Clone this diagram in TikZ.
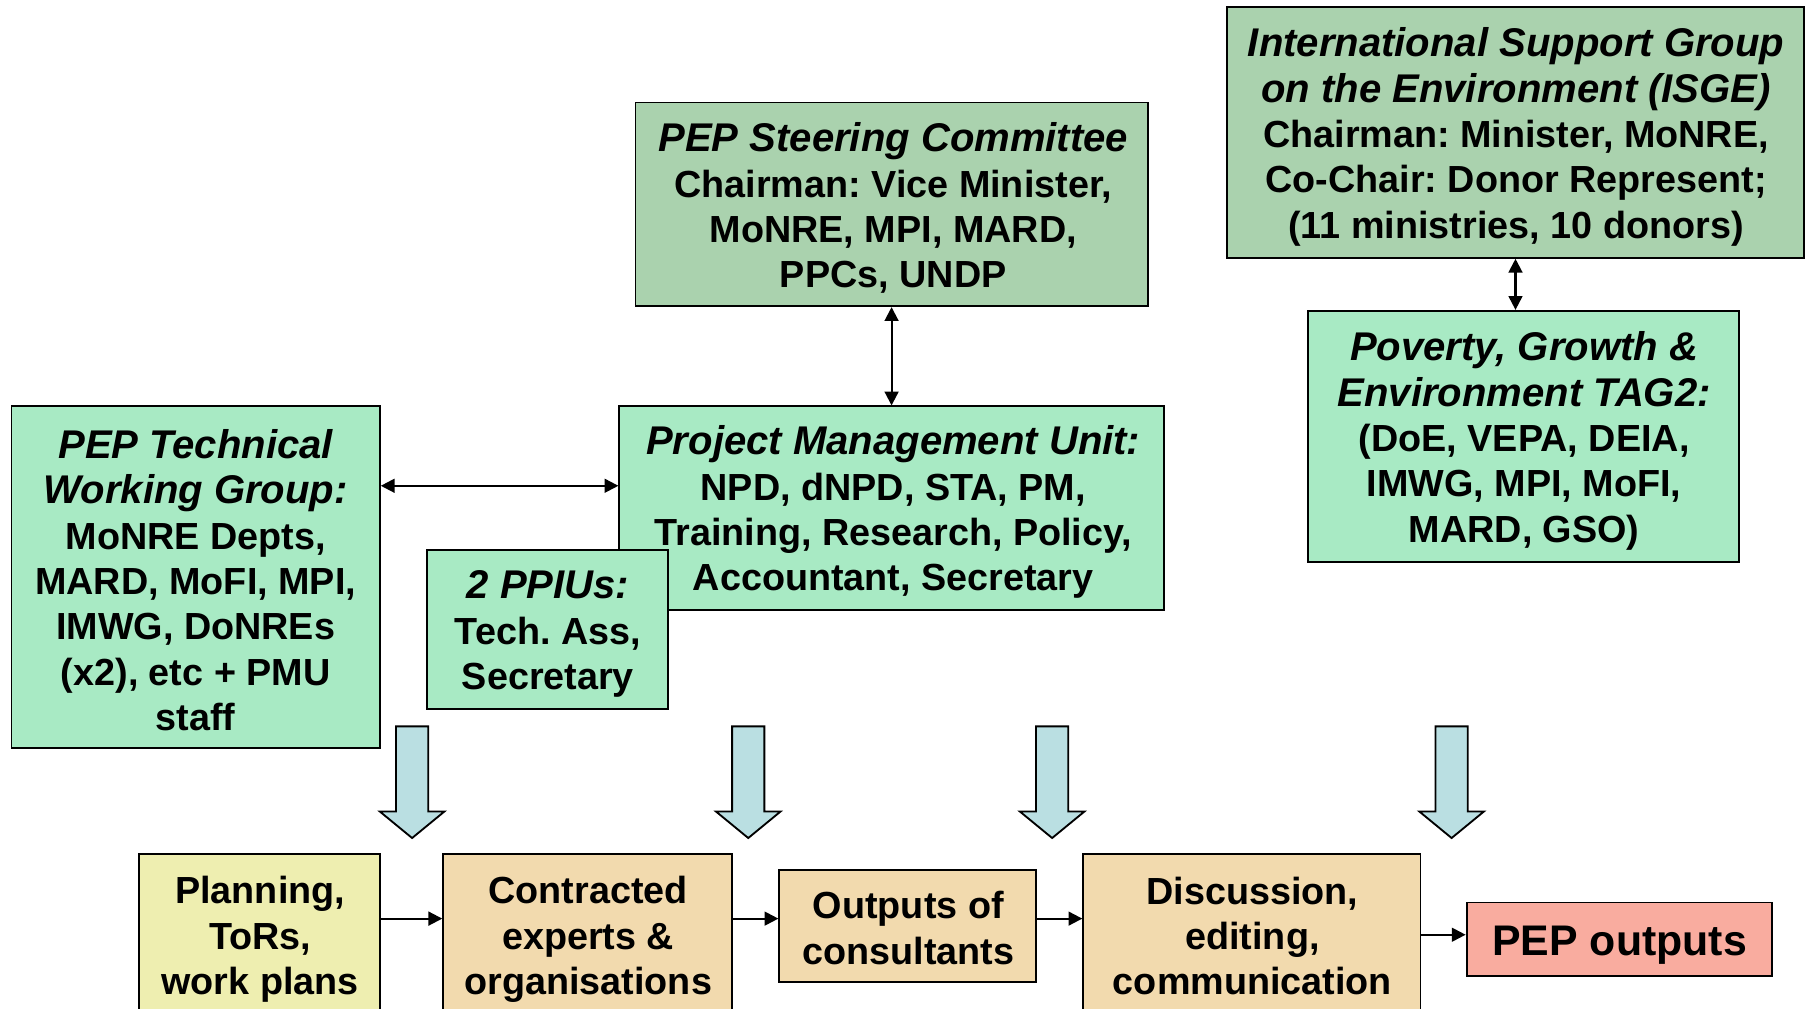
\documentclass[tikz,border=0pt]{standalone}
\usepackage{fontspec}
\setmainfont{Liberation Sans}
\usetikzlibrary{arrows.meta,fit}
\definecolor{dkgreen}{HTML}{AAD2AE}
\definecolor{ltgreen}{HTML}{A8EAC4}
\definecolor{ablue}{HTML}{BADFE2}
\definecolor{pyellow}{HTML}{EEEEB0}
\definecolor{wheatc}{HTML}{F2DAAE}
\definecolor{salmon}{HTML}{F9AC9F}
\newcommand\boxfont{\frenchspacing\fontsize{16.4}{19.7}\selectfont\bfseries}
\newcommand\bihead{\fontsize{17.4}{19.7}\selectfont\itshape}
\begin{document}
\begin{tikzpicture}[x=0.5pt,y=-0.5pt,
  box/.style={draw=black, line width=0.8pt, inner sep=0pt},
  txt/.style={inner sep=0pt, align=center, font=\boxfont},
  conn/.style={line width=0.9pt, {Triangle[width=6pt,length=6pt]}-{Triangle[width=6pt,length=6pt]}},
  fwd/.style={line width=0.9pt, -{Triangle[width=6pt,length=6pt]}},
  bigarrow/.style={draw=black, line width=0.8pt, fill=ablue, line join=miter}]
\useasboundingbox (0,0) rectangle (1568,876);
% top boxes
\node[box, fill=dkgreen, fit={(552,89) (997,266)}] (steer) {};
\node[txt] (steerT) at (776,181)
  {{\bihead PEP Steering Committee}\\Chairman: Vice Minister,\\MoNRE, MPI, MARD,\\PPCs, UNDP};
\node[box, fill=dkgreen, fit={(1066,6) (1567,224)}] (isge) {};
\node[txt] (isgeT) at (1317,119)
  {{\bihead International Support Group}\\{\bihead on the Environment (ISGE)}\\Chairman: Minister, MoNRE,\\Co-Chair: Donor Represent;\\(11 ministries, 10 donors)};
\node[box, fill=ltgreen, fit={(1136,270) (1511,488)}] (pov) {};
\node[txt] (povT) at (1324,383)
  {{\bihead Poverty, Growth \&}\\{\bihead Environment TAG2:}\\(DoE, VEPA, DEIA,\\IMWG, MPI, MoFI,\\MARD, GSO)};
\node[box, fill=ltgreen, fit={(538,353) (1011,530)}] (pmu) {};
\node[txt] (pmuT) at (776,445)
  {{\bihead Project Management Unit:}\\NPD, dNPD, STA, PM,\\Training, Research, Policy,\\Accountant, Secretary};
\node[box, fill=ltgreen, fit={(10,353) (330,650)}] (twg) {};
\node[txt] (twgT) at (170,504)
  {{\bihead PEP Technical}\\{\bihead Working Group:}\\MoNRE Depts,\\MARD, MoFI, MPI,\\IMWG, DoNREs\\(x2), etc + PMU\\staff};
\node[box, fill=ltgreen, fit={(371,478) (580,616)}] (ppiu) {};
\node[txt] (ppiuT) at (476,551)
  {{\bihead 2 PPIUs:}\\Tech. Ass,\\Secretary};
% bottom boxes
\node[box, fill=pyellow, fit={(121,742) (330,885)}] (plan) {};
\node[txt] (planT) at (226,816) {Planning,\\ToRs,\\work plans};
\node[box, fill=wheatc, fit={(385,742) (636,885)}] (contr) {};
\node[txt] (contrT) at (511,816) {Contracted\\experts \&\\organisations};
\node[box, fill=wheatc, fit={(677,756) (900,853)}] (outc) {};
\node[txt] (outcT) at (789,806) {Outputs of\\consultants};
\node[box, fill=wheatc, fit={(941,742) (1234,885)}] (disc) {};
\node[txt] (discT) at (1088,813) {Discussion,\\editing,\\communication};
\node[box, fill=salmon, fit={(1274,784) (1539,848)}] (pepout) {};
\node[txt, font=\fontsize{18.6}{22}\selectfont\bfseries] (pepoutT) at (1407,821) {PEP outputs};
% connectors
\coordinate (yA) at (0,422);
\coordinate (yB) at (0,798);
\coordinate (yC) at (0,812);
\draw[conn] (steer.south) -- (pmu.north);
\draw[conn] (isge.south) -- (pov.north -| isge.south);
\draw[conn] (twg.east |- yA) -- (pmu.west |- yA);
\draw[fwd] (plan.east |- yB) -- (contr.west |- yB);
\draw[fwd] (contr.east |- yB) -- (outc.west |- yB);
\draw[fwd] (outc.east |- yB) -- (disc.west |- yB);
\draw[fwd] (disc.east |- yC) -- (pepout.west |- yC);
% big down arrows
\foreach \cx in {358,650,914,1261} {
  \draw[bigarrow] (\cx-14,631) -- (\cx+14,631) -- (\cx+14,705) -- (\cx+28,705)
    -- (\cx,728) -- (\cx-28,705) -- (\cx-14,705) -- cycle;
}
\end{tikzpicture}
\end{document}
